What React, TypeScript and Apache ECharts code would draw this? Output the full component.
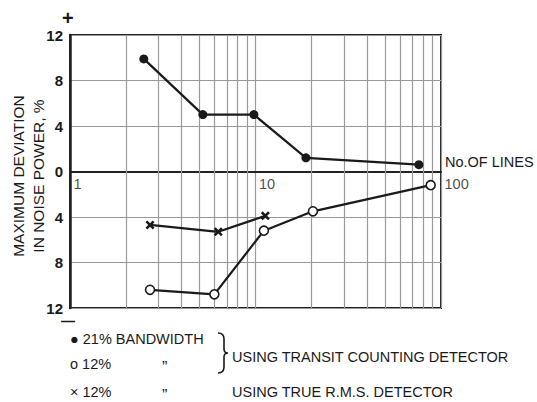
import React, { useEffect, useRef } from "react";
import * as echarts from "echarts";

const filledX = [2.5, 5.2, 9.8, 18.7, 76];
const filledY = [9.9, 5, 5, 1.2, 0.6];
const openX = [2.7, 6.0, 11.1, 20.4, 88];
const openY = [-10.4, -10.8, -5.2, -3.5, -1.2];
const crossX = [2.7, 6.3, 11.3];
const crossY = [-4.7, -5.3, -3.9];
const minorGridX = [2, 3, 4, 5, 6, 7, 8, 9, 20, 30, 40, 50, 60, 70, 80, 90];
const xTickLabels = [1, 10, 100];
const yTicks = [-12, -8, -4, 0, 4, 8, 12];

const FONT = "Liberation Sans, Arial, sans-serif";
const INK = "#1a1a1a";

export default function App() {
  const ref = useRef<HTMLDivElement>(null);
  useEffect(() => {
    document.body.style.margin = "0";
    if (!ref.current) return;
    echarts.graphic.registerShape(
      "brace",
      echarts.graphic.extendPath(
        "M0,0 Q6,0 6,6 L6,16 Q6,20 10,20 Q6,20 6,24 L6,34 Q6,40 0,40",
        {}
      )
    );
    const chart = echarts.init(ref.current, null, { renderer: "svg" });
    const pair = (xs: number[], ys: number[]) => xs.map((x, i) => [x, ys[i]]);
    const txt = (text: string, x: number, y: number, size = 14.5, extra: any = {}) => ({
      type: "text",
      x,
      y,
      style: {
        text,
        font: `${size}px ${FONT}`,
        fill: INK,
        textAlign: "left",
        textVerticalAlign: "middle",
        align: "left",
        verticalAlign: "middle",
        ...extra,
      },
      silent: true,
    });
    const rot = (text: string, x: number) => ({
      type: "text",
      x,
      y: 176,
      rotation: Math.PI / 2,
      style: {
        text,
        font: `15.5px ${FONT}`,
        fill: INK,
        textAlign: "center",
        textVerticalAlign: "middle",
        align: "center",
        verticalAlign: "middle",
      },
      silent: true,
    });
    chart.setOption({
      animation: false,
      backgroundColor: "#fff",
      grid: {
        left: 70,
        right: 96,
        top: 35,
        bottom: 94,
        show: true,
        borderColor: "#222",
        borderWidth: 2,
        backgroundColor: "transparent",
      },
      xAxis: {
        type: "log",
        logBase: 10,
        min: 1,
        max: 100,
        axisLine: { onZero: true, lineStyle: { color: "#222", width: 2 } },
        axisTick: { show: false },
        splitLine: { show: true, lineStyle: { color: "#999", width: 1.2 } },
        axisLabel: { show: false },
      },
      yAxis: {
        type: "value",
        min: -12,
        max: 12,
        interval: 4,
        axisLine: { show: true, lineStyle: { color: "#222", width: 2.5 } },
        axisTick: { show: false },
        splitLine: { show: true, lineStyle: { color: "#999", width: 1.2 } },
        axisLabel: {
          color: INK,
          fontFamily: FONT,
          fontSize: 15,
          fontWeight: "bold",
          margin: 7,
          formatter: (v: number) => (yTicks.includes(v) ? String(Math.abs(v)) : ""),
        },
      },
      series: [
        {
          type: "line",
          data: [],
          silent: true,
          markLine: {
            silent: true,
            symbol: "none",
            label: { show: false },
            lineStyle: { color: "#999", width: 1.2, type: "solid" },
            data: minorGridX.map((v) => ({ xAxis: v })),
          },
        },
        {
          type: "scatter",
          silent: true,
          data: xTickLabels.map((v) => [v, 0]),
          symbolSize: 1,
          itemStyle: { color: "rgba(0,0,0,0)" },
          label: {
            show: true,
            position: [4, 5],
            align: "left",
            verticalAlign: "top",
            color: INK,
            fontFamily: FONT,
            fontSize: 14.5,
            formatter: (p: any) => String(p.value[0]),
          },
        },
        {
          type: "line",
          data: pair(filledX, filledY),
          symbol: "circle",
          symbolSize: 9,
          lineStyle: { color: INK, width: 2.2 },
          itemStyle: { color: INK },
          z: 5,
        },
        {
          type: "line",
          data: pair(openX, openY),
          symbol: "circle",
          symbolSize: 9,
          lineStyle: { color: INK, width: 2.2 },
          itemStyle: { color: "#fff", borderColor: INK, borderWidth: 1.6 },
          z: 5,
        },
        {
          type: "line",
          data: pair(crossX, crossY),
          symbol:
            "path://M2,0 L5,3 L8,0 L10,2 L7,5 L10,8 L8,10 L5,7 L2,10 L0,8 L3,5 L0,2 Z",
          symbolSize: 9,
          lineStyle: { color: INK, width: 2.2 },
          itemStyle: { color: INK },
          z: 5,
        },
      ],
      graphic: [
        rot("MAXIMUM DEVIATION", 18),
        rot("IN NOISE POWER, %", 38),
        txt("+", 62, 18, 20, { font: `bold 20px ${FONT}` }),
        txt("—", 61, 321, 14, { font: `bold 14px ${FONT}` }),
        txt("No.OF LINES", 445, 162),
        txt("● 21% BANDWIDTH", 70, 339),
        txt("o 12%", 70, 364),
        txt("”", 162, 367, 16),
        txt("× 12%", 70, 392),
        txt("”", 162, 395, 16),
        txt("USING TRANSIT COUNTING DETECTOR", 232, 357),
        txt("USING TRUE R.M.S. DETECTOR", 232, 392),
        {
          type: "brace",
          x: 218,
          y: 333,
          scaleX: 1,
          scaleY: 1,
          style: { stroke: INK, lineWidth: 1.6, fill: "none" },
          silent: true,
        },
      ],
    });
    return () => chart.dispose();
  }, []);
  return <div ref={ref} style={{ width: 537, height: 402 }} />;
}
